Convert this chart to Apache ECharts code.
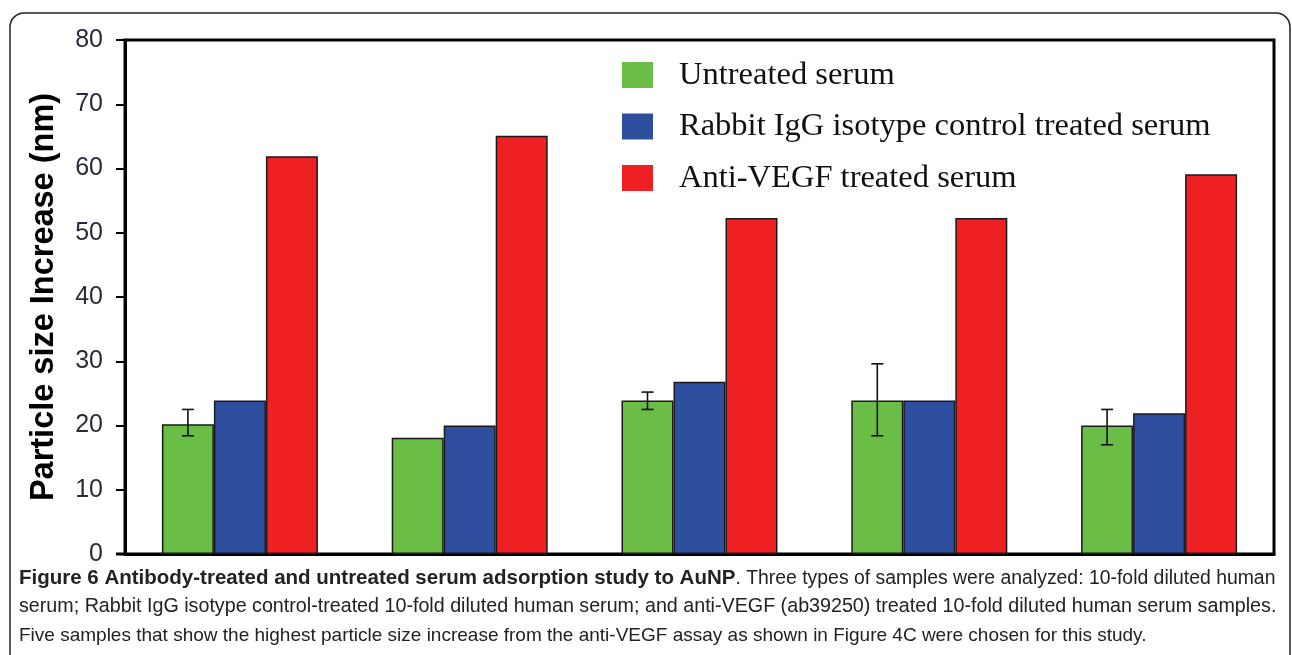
<!DOCTYPE html>
<html>
<head>
<meta charset="utf-8">
<script src="https://cdn.jsdelivr.net/npm/echarts@6/dist/echarts.min.js"></script>
<style>
html,body{margin:0;padding:0;background:#fff;}
#chart{width:1292px;height:655px;}
</style>
</head>
<body>
<div id="chart"></div>
<script>
// ---- data ----
const categories = ['Sample 1', 'Sample 2', 'Sample 3', 'Sample 4', 'Sample 5'];
const seriesNames = ['Untreated serum', 'Rabbit IgG isotype control treated serum', 'Anti-VEGF treated serum'];
const untreated = [20.2, 18.1, 23.9, 23.9, 20.0];
const rabbitIgG = [23.9, 20.0, 26.8, 23.9, 21.9];
const antiVEGF = [61.9, 65.1, 52.3, 52.3, 59.1];
const untreatedErrLow = [18.4, null, 22.5, 18.4, 17.0];
const untreatedErrHigh = [22.5, null, 25.2, 29.6, 22.5];
const yAxisName = 'Particle size Increase (nm)';
const captionBold = 'Figure 6 Antibody-treated and untreated serum adsorption study to AuNP';
const captionLines = [
  '. Three types of samples were analyzed: 10-fold diluted human',
  'serum; Rabbit IgG isotype control-treated 10-fold diluted human serum; and anti-VEGF (ab39250) treated 10-fold diluted human serum samples.',
  'Five samples that show the highest particle size increase from the anti-VEGF assay as shown in Figure 4C were chosen for this study.'
];
const colors = ['#6abd45', '#2e4fa0', '#ee2024'];

const BAR_W = 52;
const errData = categories.map((c, i) => [i, untreatedErrLow[i], untreatedErrHigh[i]]).filter(d => d[1] != null);

const chart = echarts.init(document.getElementById('chart'));
const barStyle = (i) => ({ color: colors[i], borderColor: '#1a1a1a', borderWidth: 1.5 });
const capFont = 'Liberation Sans';

chart.setOption({
  animation: false,
  backgroundColor: '#fff',
  grid: { left: 125, right: 18, top: 40, bottom: 101, show: true, borderColor: '#000', borderWidth: 3, backgroundColor: 'transparent' },
  legend: {
    data: seriesNames,
    orient: 'vertical',
    left: 622,
    top: 58.5,
    padding: 0,
    itemWidth: 31,
    itemHeight: 26,
    itemGap: 18.5,
    icon: 'rect',
    itemStyle: { borderWidth: 0 },
    textStyle: { fontFamily: 'Liberation Serif', fontSize: 32.5, color: '#111', padding: [0, 0, 0, 21] }
  },
  xAxis: {
    type: 'category',
    data: categories,
    axisLine: { show: true, lineStyle: { color: '#000', width: 3 } },
    axisTick: { show: false },
    axisLabel: { show: false },
    splitLine: { show: false }
  },
  yAxis: {
    type: 'value',
    min: 0, max: 80, interval: 10,
    name: yAxisName,
    nameLocation: 'middle',
    nameGap: 64,
    nameTextStyle: { fontFamily: 'Liberation Sans', fontWeight: 'bold', fontSize: 32.5, color: '#000' },
    axisLine: { show: true, lineStyle: { color: '#000', width: 3 } },
    axisTick: { show: true, inside: false, length: 9, lineStyle: { color: '#000', width: 2 } },
    axisLabel: { fontFamily: 'Liberation Sans', fontSize: 25, color: '#2a2a3a', margin: 22 },
    splitLine: { show: false }
  },
  series: [
    { name: seriesNames[0], type: 'bar', data: untreated, barWidth: BAR_W, barGap: '0%', itemStyle: barStyle(0) },
    { name: seriesNames[1], type: 'bar', data: rabbitIgG, barWidth: BAR_W, barGap: '0%', itemStyle: barStyle(1) },
    { name: seriesNames[2], type: 'bar', data: antiVEGF, barWidth: BAR_W, barGap: '0%', itemStyle: barStyle(2) },
    {
      type: 'custom',
      name: 'err',
      data: errData,
      encode: { x: 0, y: [1, 2] },
      z: 10,
      renderItem: function (params, api) {
        const i = api.value(0);
        const lo = api.coord([i, api.value(1)]);
        const hi = api.coord([i, api.value(2)]);
        const x = lo[0] - BAR_W;
        const cap = 6;
        const st = { stroke: '#111', lineWidth: 1.6 };
        return {
          type: 'group',
          children: [
            { type: 'line', shape: { x1: x, y1: lo[1], x2: x, y2: hi[1] }, style: st },
            { type: 'line', shape: { x1: x - cap, y1: lo[1], x2: x + cap, y2: lo[1] }, style: st },
            { type: 'line', shape: { x1: x - cap, y1: hi[1], x2: x + cap, y2: hi[1] }, style: st }
          ]
        };
      }
    }
  ],
  graphic: [
    { type: 'rect', silent: true, shape: { x: 10, y: 13, width: 1280, height: 700, r: 14 }, style: { fill: 'none', stroke: '#222', lineWidth: 1.5 } },
    { type: 'line', silent: true, shape: { x1: 116, y1: 554, x2: 126, y2: 554 }, style: { stroke: '#000', lineWidth: 3 } },
    {
      type: 'text', left: 19, top: 568, silent: true,
      style: {
        text: '{b|' + captionBold + '}{n|' + captionLines[0] + '}',
        rich: {
          b: { fontFamily: capFont, fontWeight: 'bold', fontSize: 20.5, fill: '#222' },
          n: { fontFamily: capFont, fontSize: 19.4, fill: '#222' }
        }
      }
    },
    { type: 'text', left: 19, top: 597, silent: true, style: { text: captionLines[1], fontFamily: capFont, fontSize: 19.7, fill: '#222' } },
    { type: 'text', left: 19, top: 626, silent: true, style: { text: captionLines[2], fontFamily: capFont, fontSize: 19, fill: '#222' } }
  ]
});
</script>
</body>
</html>
